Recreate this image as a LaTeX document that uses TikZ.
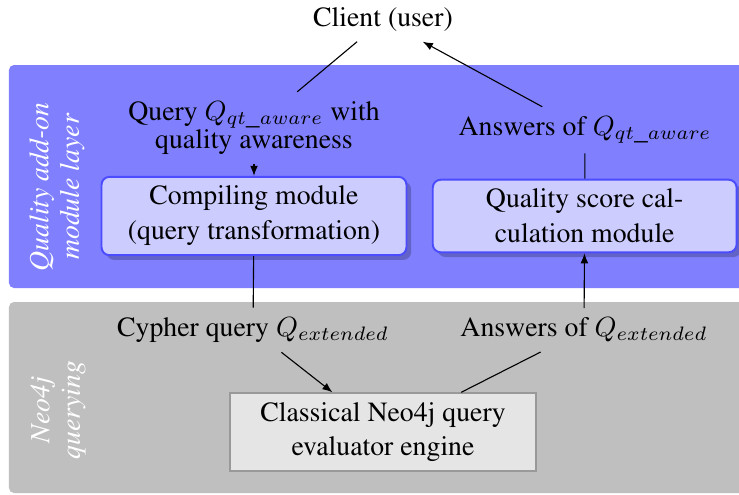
\documentclass[tikz,border=0pt]{standalone}
\usepackage[T1]{fontenc}
\usepackage{times}
\usetikzlibrary{shadows,arrows.meta}
\begin{document}
\begin{tikzpicture}[x=0.36pt,y=-0.36pt,
  lbl/.style={align=center,font={\fontsize{10}{10}\selectfont}},
  band/.style={rounded corners=1.8pt},
  layerlbl/.style={rotate=90,align=center,text=white,font={\fontsize{10}{11}\selectfont\itshape}},
  module/.style={draw=blue!70,line width=0.7pt,fill=blue!20,rounded corners=2.9pt,align=center,
     font={\fontsize{10}{12.6}\selectfont},
     drop shadow={shadow xshift=1.7pt,shadow yshift=-1.7pt,fill=black,opacity=0.22}},
  engbox/.style={draw=black!40,line width=0.6pt,fill=black!10,align=center,
     font={\fontsize{10}{12}\selectfont}},
  arr/.style={-{Latex[length=3.6pt,width=2.8pt]},line width=0.4pt},
  ln/.style={line width=0.4pt}]
\clip (0,0) rectangle (739,494);
\fill[white] (0,0) rectangle (739,494);
% bands
\fill[band,blue!50] (9,65) rectangle (760,288);
\fill[band,black!25] (9,302) rectangle (760,493);
\node[layerlbl] (ql) at (57,187) {Quality add-on\\module layer};
\node[layerlbl] (nq) at (58,410) {Neo4j\\querying};
% nodes
\node[lbl] (client) at (383,20) {Client (user)};
\node[lbl] (qlabel) at (254,128) {Query $Q_{qt\_aware}$ with\\quality awareness};
\node[lbl] (alabel) at (585,130) {Answers of $Q_{qt\_aware}$};
\node[module,minimum width=109.8pt,minimum height=28pt] (compile) at (254,216) {Compiling module\\(query transformation)};
\node[module,minimum width=109.4pt,minimum height=26pt] (quality) at (584.7,216) {Quality score cal-\\culation module};
\node[lbl] (cypher) at (253,330) {Cypher query $Q_{extended}$};
\node[lbl] (aext) at (584,330) {Answers of $Q_{extended}$};
\node[engbox,minimum width=110.2pt,minimum height=28pt] (engine) at (383,432) {Classical Neo4j query\\evaluator engine};
% connectors
\draw[ln] (client) -- (qlabel);
\draw[arr] (qlabel) -- (compile);
\draw[ln] (compile) -- (cypher);
\draw[arr] (cypher) -- (engine);
\draw[ln] (engine) -- (aext);
\draw[arr] (aext) -- (quality);
\draw[ln] (quality) -- (alabel);
\draw[arr] (alabel) -- (client);
\end{tikzpicture}
\end{document}
